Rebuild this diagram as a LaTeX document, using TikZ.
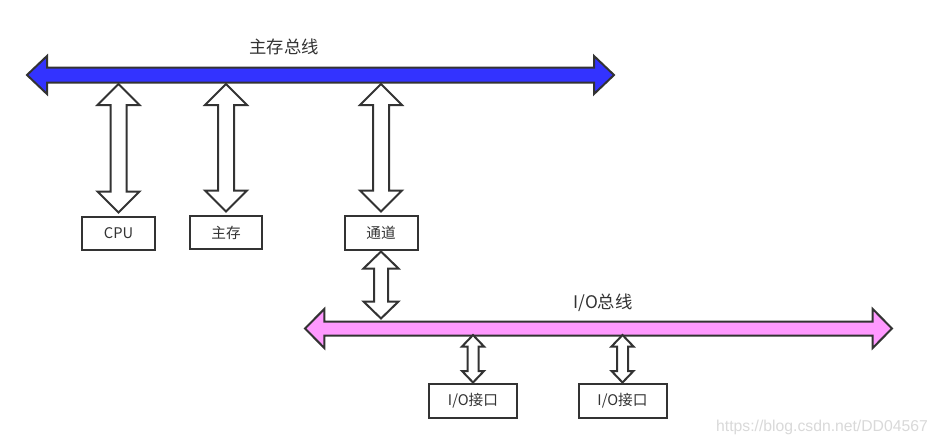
\documentclass[tikz,border=0pt]{standalone}
\usepackage{fontspec}
\setmainfont{Noto Sans CJK SC}
\newfontfamily\wmfont{Liberation Sans}
\usetikzlibrary{calc}
\definecolor{ln}{HTML}{333333}
\definecolor{busblue}{HTML}{3333FF}
\definecolor{buspink}{HTML}{FF99FF}
\tikzset{
  box/.style={draw=ln, line width=1.5pt, fill=white, text=ln,
    font=\fontsize{11}{13}\selectfont, inner sep=0pt},
  arr/.style={draw=ln, line width=1.5pt, fill=white, line join=miter},
  mainbus/.style={draw=ln, line width=1.5pt, fill=busblue, line join=miter},
  iobus/.style={draw=ln, line width=1.5pt, fill=buspink, line join=miter},
  buslabel/.style={text=ln, font=\fontsize{13}{15}\selectfont, inner sep=0pt},
}
% vertical double arrow: #1 style, #2 top tip, #3 bottom tip, #4 head half, #5 shaft half, #6 head length (px)
\newcommand{\vdarr}[6]{%
  \path[#1] let \p1=(#2), \p2=(#3), \n1={#4*0.75pt}, \n2={#5*0.75pt}, \n3={#6*0.75pt} in
  (\x1,\y1) -- (\x1+\n1,\y1-\n3) -- (\x1+\n2,\y1-\n3) -- (\x1+\n2,\y2+\n3) -- (\x1+\n1,\y2+\n3)
  -- (\x1,\y2) -- (\x1-\n1,\y2+\n3) -- (\x1-\n2,\y2+\n3) -- (\x1-\n2,\y1-\n3) -- (\x1-\n1,\y1-\n3) -- cycle;}
% horizontal double arrow: #1 style, #2 left tip, #3 right tip, #4 head half, #5 shaft half, #6 head length (px)
\newcommand{\hdarr}[6]{%
  \path[#1] let \p1=(#2), \p2=(#3), \n1={#4*0.75pt}, \n2={#5*0.75pt}, \n3={#6*0.75pt} in
  (\x1,\y1) -- (\x1+\n3,\y1+\n1) -- (\x1+\n3,\y1+\n2) -- (\x2-\n3,\y1+\n2) -- (\x2-\n3,\y1+\n1)
  -- (\x2,\y1) -- (\x2-\n3,\y1-\n1) -- (\x2-\n3,\y1-\n2) -- (\x1+\n3,\y1-\n2) -- (\x1+\n3,\y1-\n1) -- cycle;}
\begin{document}
\begin{tikzpicture}[x=0.75pt,y=-0.75pt]
\useasboundingbox (0,0) rectangle (938,446);
\fill[white] (0,0) rectangle (938,446);

% bus end points
\coordinate (mbL) at (27,75);
\coordinate (mbR) at (614,75);
\coordinate (mbB) at (0,84);
\coordinate (iobL) at (305,328.5);
\coordinate (iobR) at (892,328.5);
\coordinate (iobT) at (0,318.5);
\coordinate (iobB) at (0,335);

% buses
\hdarr{mainbus}{mbL}{mbR}{19}{7.5}{20}
\hdarr{iobus}{iobL}{iobR}{19.5}{7}{19.3}

\node[buslabel] (mblabel) at (284,47) {主存总线};
\node[buslabel] (ioblabel) at (603,303) {I/O总线};

% boxes
\node[box, minimum width=54.75pt, minimum height=24.75pt] (cpu) at (118.5,233.5) {CPU};
\node[box, minimum width=54pt, minimum height=24.75pt] (mem) at (226,232.5) {主存};
\node[box, minimum width=54.75pt, minimum height=25.5pt] (chan) at (381,232.5) {通道};
\node[box, minimum width=66pt, minimum height=25.5pt] (io1) at (473,400.5) {I/O接口};
\node[box, minimum width=66pt, minimum height=25.5pt] (io2) at (622.5,400.5) {I/O接口};

% connectors
\coordinate (cpuB) at ($(cpu.north)+(0,-3.5)$);
\coordinate (memB) at ($(mem.north)+(0,-3.5)$);
\coordinate (chanB) at ($(chan.north)+(0,-3)$);
\vdarr{arr}{cpu.north |- mbB}{cpuB}{21}{8}{21}
\vdarr{arr}{mem.north |- mbB}{memB}{21}{8}{21}
\vdarr{arr}{chan.north |- mbB}{chanB}{21}{8}{21}

\coordinate (chanS) at ($(chan.south)+(0,1)$);
\vdarr{arr}{chanS}{chan.south |- iobT}{17.5}{7}{17}

\vdarr{arr}{io1.north |- iobB}{io1.north}{11}{5.5}{11.5}
\vdarr{arr}{io2.north |- iobB}{io2.north}{11}{5.5}{11.5}

\node[text=gray!30, font=\wmfont\fontsize{11.8}{14}\selectfont, inner sep=0pt] (wm) at (822,427) {https://blog.csdn.net/DD04567};
\end{tikzpicture}
\end{document}
